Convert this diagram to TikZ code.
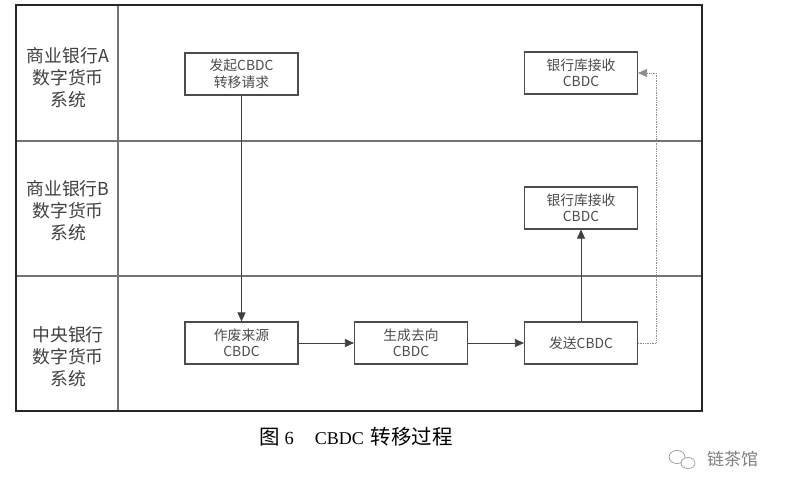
\documentclass[tikz,border=0pt]{standalone}
\usepackage{fontspec}
\setmainfont{Noto Sans CJK SC}
\newfontfamily\latinserif{Liberation Serif}
\usetikzlibrary{arrows.meta}
\begin{document}
\begin{tikzpicture}[x=1pt,y=-1pt,
  stepbox/.style={draw=black!70, line width=1.1pt, fill=white, minimum width=113pt, minimum height=42pt,
    inner sep=0pt, align=center, text=black!70, font=\fontsize{13.8}{16.5}\selectfont},
  lanelabel/.style={align=center, text=black!75, font=\fontsize{17.8}{22}\selectfont},
  arr/.style={draw=black!75, line width=0.7pt, -{Triangle[length=9pt,width=8pt]}},
  dotarr/.style={draw=black!45, line width=0.7pt, densely dotted, -{Triangle[length=9pt,width=8pt]}}]
\useasboundingbox (0,0) rectangle (789,502);
\fill[white] (0,0) rectangle (789,502);
% lanes
\draw[black!55, line width=1.6pt] (16,141) -- (702,141);
\draw[black!55, line width=1.6pt] (16,276) -- (702,276);
\draw[black!55, line width=2.6pt] (118,5) -- (118,411);
\draw[black!85, line width=1.3pt] (16,5) rectangle (702,411);
% lane labels
\node[lanelabel] (la) at (68,78) {商业银行A\\数字货币\\系统};
\node[lanelabel] (lb) at (68,211) {商业银行B\\数字货币\\系统};
\node[lanelabel] (lc) at (68,357) {中央银行\\数字货币\\系统};
% boxes
\node[stepbox] (req) at (241.5,74) {发起CBDC\\转移请求};
\node[stepbox] (recA) at (581,73) {银行库接收\\CBDC};
\node[stepbox] (recB) at (581,208) {银行库接收\\CBDC};
\node[stepbox] (void) at (241.5,343) {作废来源\\CBDC};
\node[stepbox] (gen) at (411,343) {生成去向\\CBDC};
\node[stepbox] (send) at (581,343) {发送CBDC};
% connectors
\draw[arr] (req) -- (void);
\draw[arr] (void) -- (gen);
\draw[arr] (gen) -- (send);
\draw[arr] (send) -- (recB);
\coordinate (dc) at (656,73);
\draw[dotarr] (send.east) -| (dc) -- (recA.east);
% caption
\node[anchor=west, inner sep=0pt, font=\fontsize{20.5}{22}\selectfont] (cap) at (259,437)
  {图\hspace{5pt}{\latinserif\fontsize{18.5}{22}\selectfont 6}\hspace{21pt}{\latinserif\fontsize{18}{22}\selectfont CBDC}\hspace{7pt}转移过程};
% source mark
\node[anchor=west, inner sep=0pt, text=black!50, font=\fontsize{17}{20}\selectfont] (src) at (707,459) {链茶馆};
\draw[black!45, line width=0.6pt] (677,457) ellipse (8pt and 6.5pt);
\draw[black!45, line width=0.6pt, fill=white] (688,463) ellipse (7pt and 5.5pt);
\end{tikzpicture}
\end{document}
